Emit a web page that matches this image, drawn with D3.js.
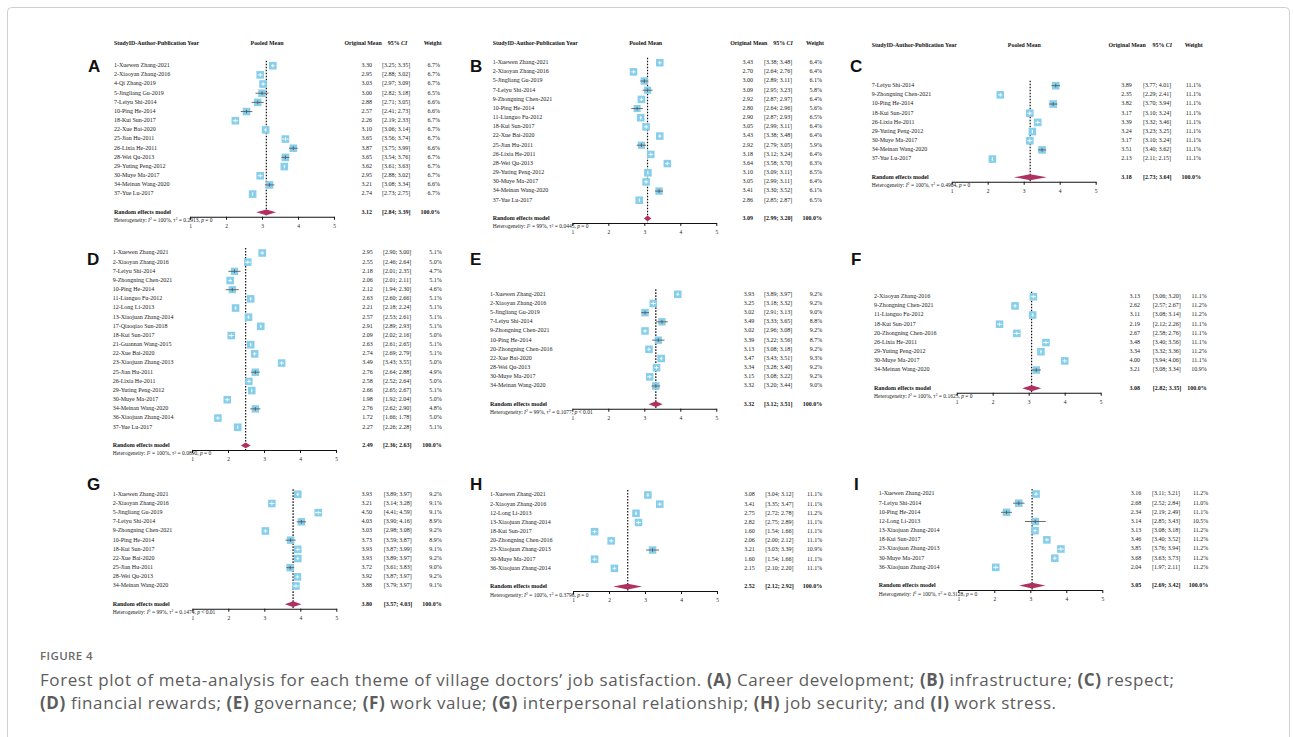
<!DOCTYPE html>
<html>
<head>
<meta charset="utf-8">
<script src="https://cdn.jsdelivr.net/npm/d3@7"></script>
<style>
  body { margin: 0; background: #fff; }
  svg { display: block; }
</style>
</head>
<body>
<svg id="fig" width="1293" height="737"></svg>
<script>
// ---------- Data: one block of arrays per theme ----------
const axisTicks = [1, 2, 3, 4, 5];

// (A) Career development
const studiesA = ["1-Xuewen Zhang-2021","2-Xiaoyan Zhang-2016","4-Qi Zhang-2019","5-Jingliang Gu-2019","7-Leiyu Shi-2014","10-Ping He-2014","18-Kui Sun-2017","22-Xue Bai-2020","25-Jian Hu-2011","26-Lixia He-2011","28-Wei Qu-2013","29-Yuting Peng-2012","30-Muye Ma-2017","34-Meinan Wang-2020","37-Yue Lu-2017"];
const meanA   = [3.30, 2.95, 3.03, 3.00, 2.88, 2.57, 2.26, 3.10, 3.65, 3.87, 3.65, 3.62, 2.95, 3.21, 2.74];
const lowerA  = [3.25, 2.88, 2.97, 2.82, 2.71, 2.41, 2.19, 3.06, 3.56, 3.75, 3.54, 3.61, 2.88, 3.08, 2.73];
const upperA  = [3.35, 3.02, 3.09, 3.18, 3.05, 2.73, 2.33, 3.14, 3.74, 3.99, 3.76, 3.63, 3.02, 3.34, 2.75];
const weightA = [6.7, 6.7, 6.7, 6.5, 6.6, 6.6, 6.7, 6.7, 6.7, 6.6, 6.7, 6.7, 6.7, 6.6, 6.7];
const pooledA = [3.12, 2.84, 3.39];
const hetA    = ["100%", "0.2913", "= 0"];

// (B) Infrastructure
const studiesB = ["1-Xuewen Zhang-2021","2-Xiaoyan Zhang-2016","5-Jingliang Gu-2019","7-Leiyu Shi-2014","9-Zhongning Chen-2021","10-Ping He-2014","11-Lianguo Fu-2012","18-Kui Sun-2017","22-Xue Bai-2020","25-Jian Hu-2011","26-Lixia He-2011","28-Wei Qu-2013","29-Yuting Peng-2012","30-Muye Ma-2017","34-Meinan Wang-2020","37-Yue Lu-2017"];
const meanB   = [3.43, 2.70, 3.00, 3.09, 2.92, 2.80, 2.90, 3.05, 3.43, 2.92, 3.18, 3.64, 3.10, 3.05, 3.41, 2.86];
const lowerB  = [3.38, 2.64, 2.89, 2.95, 2.87, 2.64, 2.87, 2.99, 3.38, 2.79, 3.12, 3.58, 3.09, 2.99, 3.30, 2.85];
const upperB  = [3.48, 2.76, 3.11, 3.23, 2.97, 2.96, 2.93, 3.11, 3.48, 3.05, 3.24, 3.70, 3.11, 3.11, 3.52, 2.87];
const weightB = [6.4, 6.4, 6.1, 5.8, 6.4, 5.6, 6.5, 6.4, 6.4, 5.9, 6.4, 6.3, 6.5, 6.4, 6.1, 6.5];
const pooledB = [3.09, 2.99, 3.20];
const hetB    = ["99%", "0.0445", "= 0"];

// (C) Respect
const studiesC = ["7-Leiyu Shi-2014","9-Zhongning Chen-2021","10-Ping He-2014","18-Kui Sun-2017","26-Lixia He-2011","29-Yuting Peng-2012","30-Muye Ma-2017","34-Meinan Wang-2020","37-Yue Lu-2017"];
const meanC   = [3.89, 2.35, 3.82, 3.17, 3.39, 3.24, 3.17, 3.51, 2.13];
const lowerC  = [3.77, 2.29, 3.70, 3.10, 3.32, 3.23, 3.10, 3.40, 2.11];
const upperC  = [4.01, 2.41, 3.94, 3.24, 3.46, 3.25, 3.24, 3.62, 2.15];
const weightC = [11.1, 11.1, 11.1, 11.1, 11.1, 11.1, 11.1, 11.1, 11.1];
const pooledC = [3.18, 2.73, 3.64];
const hetC    = ["100%", "0.4904", "= 0"];

// (D) Financial rewards
const studiesD = ["1-Xuewen Zhang-2021","2-Xiaoyan Zhang-2016","7-Leiyu Shi-2014","9-Zhongning Chen-2021","10-Ping He-2014","11-Lianguo Fu-2012","12-Long Li-2013","13-Xiaojuan Zhang-2014","17-Qiaoqiao Sun-2018","18-Kui Sun-2017","21-Guannan Wang-2015","22-Xue Bai-2020","23-Xiaojuan Zhang-2013","25-Jian Hu-2011","26-Lixia He-2011","29-Yuting Peng-2012","30-Muye Ma-2017","34-Meinan Wang-2020","36-Xiaojuan Zhang-2014","37-Yue Lu-2017"];
const meanD   = [2.95, 2.55, 2.18, 2.06, 2.12, 2.63, 2.21, 2.57, 2.91, 2.09, 2.63, 2.74, 3.49, 2.76, 2.58, 2.66, 1.98, 2.76, 1.72, 2.27];
const lowerD  = [2.90, 2.46, 2.01, 2.01, 1.94, 2.60, 2.18, 2.53, 2.89, 2.02, 2.61, 2.69, 3.43, 2.64, 2.52, 2.65, 1.92, 2.62, 1.66, 2.26];
const upperD  = [3.00, 2.64, 2.35, 2.11, 2.30, 2.66, 2.24, 2.61, 2.93, 2.16, 2.65, 2.79, 3.55, 2.88, 2.64, 2.67, 2.04, 2.90, 1.78, 2.28];
const weightD = [5.1, 5.0, 4.7, 5.1, 4.6, 5.1, 5.1, 5.1, 5.1, 5.0, 5.1, 5.1, 5.0, 4.9, 5.0, 5.1, 5.0, 4.8, 5.0, 5.1];
const pooledD = [2.49, 2.36, 2.63];
const hetD    = ["100%", "0.0890", "= 0"];

// (E) Governance
const studiesE = ["1-Xuewen Zhang-2021","2-Xiaoyan Zhang-2016","5-Jingliang Gu-2019","7-Leiyu Shi-2014","9-Zhongning Chen-2021","10-Ping He-2014","20-Zhongning Chen-2016","22-Xue Bai-2020","28-Wei Qu-2013","30-Muye Ma-2017","34-Meinan Wang-2020"];
const meanE   = [3.93, 3.25, 3.02, 3.49, 3.02, 3.39, 3.13, 3.47, 3.34, 3.15, 3.32];
const lowerE  = [3.89, 3.18, 2.91, 3.33, 2.96, 3.22, 3.08, 3.43, 3.28, 3.08, 3.20];
const upperE  = [3.97, 3.32, 3.13, 3.65, 3.08, 3.56, 3.18, 3.51, 3.40, 3.22, 3.44];
const weightE = [9.2, 9.2, 9.0, 8.8, 9.2, 8.7, 9.2, 9.3, 9.2, 9.2, 9.0];
const pooledE = [3.32, 3.12, 3.51];
const hetE    = ["99%", "0.1077", "< 0.01"];

// (F) Work value
const studiesF = ["2-Xiaoyan Zhang-2016","9-Zhongning Chen-2021","11-Lianguo Fu-2012","18-Kui Sun-2017","20-Zhongning Chen-2016","26-Lixia He-2011","29-Yuting Peng-2012","30-Muye Ma-2017","34-Meinan Wang-2020"];
const meanF   = [3.13, 2.62, 3.11, 2.19, 2.67, 3.48, 3.34, 4.00, 3.21];
const lowerF  = [3.06, 2.57, 3.08, 2.12, 2.58, 3.40, 3.32, 3.94, 3.08];
const upperF  = [3.20, 2.67, 3.14, 2.26, 2.76, 3.56, 3.36, 4.06, 3.34];
const weightF = [11.1, 11.2, 11.2, 11.1, 11.1, 11.1, 11.2, 11.1, 10.9];
const pooledF = [3.08, 2.82, 3.35];
const hetF    = ["100%", "0.1625", "= 0"];

// (G) Interpersonal relationship
const studiesG = ["1-Xuewen Zhang-2021","2-Xiaoyan Zhang-2016","5-Jingliang Gu-2019","7-Leiyu Shi-2014","9-Zhongning Chen-2021","10-Ping He-2014","18-Kui Sun-2017","22-Xue Bai-2020","25-Jian Hu-2011","28-Wei Qu-2013","34-Meinan Wang-2020"];
const meanG   = [3.93, 3.21, 4.50, 4.03, 3.03, 3.73, 3.93, 3.93, 3.72, 3.92, 3.88];
const lowerG  = [3.89, 3.14, 4.41, 3.90, 2.98, 3.59, 3.87, 3.89, 3.61, 3.87, 3.79];
const upperG  = [3.97, 3.28, 4.59, 4.16, 3.08, 3.87, 3.99, 3.97, 3.83, 3.97, 3.97];
const weightG = [9.2, 9.1, 9.1, 8.9, 9.2, 8.9, 9.1, 9.2, 9.0, 9.2, 9.1];
const pooledG = [3.80, 3.57, 4.03];
const hetG    = ["99%", "0.1474", "< 0.01"];

// (H) Job security
const studiesH = ["1-Xuewen Zhang-2021","2-Xiaoyan Zhang-2016","12-Long Li-2013","13-Xiaojuan Zhang-2014","18-Kui Sun-2017","20-Zhongning Chen-2016","23-Xiaojuan Zhang-2013","30-Muye Ma-2017","36-Xiaojuan Zhang-2014"];
const meanH   = [3.08, 3.41, 2.75, 2.82, 1.60, 2.06, 3.21, 1.60, 2.15];
const lowerH  = [3.04, 3.35, 2.72, 2.75, 1.54, 2.00, 3.03, 1.54, 2.10];
const upperH  = [3.12, 3.47, 2.78, 2.89, 1.66, 2.12, 3.39, 1.66, 2.20];
const weightH = [11.1, 11.1, 11.2, 11.1, 11.1, 11.1, 10.9, 11.1, 11.1];
const pooledH = [2.52, 2.12, 2.92];
const hetH    = ["100%", "0.3798", "= 0"];

// (I) Work stress
const studiesI = ["1-Xuewen Zhang-2021","7-Leiyu Shi-2014","10-Ping He-2014","12-Long Li-2013","13-Xiaojuan Zhang-2014","18-Kui Sun-2017","23-Xiaojuan Zhang-2013","30-Muye Ma-2017","36-Xiaojuan Zhang-2014"];
const meanI   = [3.16, 2.68, 2.34, 3.14, 3.13, 3.46, 3.85, 3.68, 2.04];
const lowerI  = [3.11, 2.52, 2.19, 2.85, 3.08, 3.40, 3.76, 3.63, 1.97];
const upperI  = [3.21, 2.84, 2.49, 3.43, 3.18, 3.52, 3.94, 3.73, 2.11];
const weightI = [11.2, 11.0, 11.1, 10.5, 11.2, 11.2, 11.2, 11.2, 11.2];
const pooledI = [3.05, 2.69, 3.42];
const hetI    = ["100%", "0.3128", "= 0"];

const captionTitle = "FIGURE 4";
const captionLines = [
  [["Forest plot of meta-analysis for each theme of village doctors\u2019 job satisfaction. ", 0], ["(A)", 1], [" Career development; ", 0], ["(B)", 1], [" infrastructure; ", 0], ["(C)", 1], [" respect;", 0]],
  [["(D)", 1], [" financial rewards; ", 0], ["(E)", 1], [" governance; ", 0], ["(F)", 1], [" work value; ", 0], ["(G)", 1], [" interpersonal relationship; ", 0], ["(H)", 1], [" job security; and ", 0], ["(I)", 1], [" work stress.", 0]]
];

// ---------- Panel placement ----------
const panels = [
  { id: "A", studies: studiesA, mean: meanA, lower: lowerA, upper: upperA, weight: weightA, pooled: pooledA, het: hetA,
    pos: { letterX: 88, letterY: 72, rowX: 114, x1: 190, row0: 65.7, valR: 372, ciL: 382, wR: 440,
           header: { y: 44, pooled: 267, origR: 381.7, ciC: 397.5, wR: 441.7 } } },
  { id: "B", studies: studiesB, mean: meanB, lower: lowerB, upper: upperB, weight: weightB, pooled: pooledB, het: hetB,
    pos: { letterX: 470, letterY: 72, rowX: 492.7, x1: 572.3, row0: 62.7, valR: 753, ciL: 764, wR: 822,
           header: { y: 43.5, pooled: 645.7, origR: 767.3, ciC: 783, wR: 824 } } },
  { id: "C", studies: studiesC, mean: meanC, lower: lowerC, upper: upperC, weight: weightC, pooled: pooledC, het: hetC,
    pos: { letterX: 850, letterY: 72, rowX: 871.7, x1: 951.7, row0: 85.7, valR: 1131.7, ciL: 1143, wR: 1201,
           header: { y: 45.5, pooled: 1024.3, origR: 1145.7, ciC: 1162.3, wR: 1202.7 } } },
  { id: "D", studies: studiesD, mean: meanD, lower: lowerD, upper: upperD, weight: weightD, pooled: pooledD, het: hetD,
    pos: { letterX: 87, letterY: 265, rowX: 112.7, x1: 192, row0: 253, valR: 372.7, ciL: 383, wR: 441.7 } },
  { id: "E", studies: studiesE, mean: meanE, lower: lowerE, upper: upperE, weight: weightE, pooled: pooledE, het: hetE,
    pos: { letterX: 470, letterY: 265, rowX: 490, x1: 572.3, row0: 294.3, valR: 754.3, ciL: 764, wR: 822.3 } },
  { id: "F", studies: studiesF, mean: meanF, lower: lowerF, upper: upperF, weight: weightF, pooled: pooledF, het: hetF,
    pos: { letterX: 851, letterY: 265, rowX: 874, x1: 956.7, row0: 296.7, valR: 1140, ciL: 1152.7, wR: 1206.7 } },
  { id: "G", studies: studiesG, mean: meanG, lower: lowerG, upper: upperG, weight: weightG, pooled: pooledG, het: hetG,
    pos: { letterX: 87, letterY: 490, rowX: 112.7, x1: 192.3, row0: 494.3, valR: 372, ciL: 383.7, wR: 441.7 } },
  { id: "H", studies: studiesH, mean: meanH, lower: lowerH, upper: upperH, weight: weightH, pooled: pooledH, het: hetH,
    pos: { letterX: 470, letterY: 490, rowX: 490, x1: 573, row0: 495, valR: 754.7, ciL: 765.3, wR: 822.3 } },
  { id: "I", studies: studiesI, mean: meanI, lower: lowerI, upper: upperI, weight: weightI, pooled: pooledI, het: hetI,
    pos: { letterX: 854, letterY: 490, rowX: 878.7, x1: 958.3, row0: 494, valR: 1141.3, ciL: 1152, wR: 1208.3 } }
];

const SERIF = "'Liberation Serif', 'Times New Roman', serif";
const ROW_STEP = 9.17;
const AXIS_SPAN = 144;        // pixels from 1 to 5
const SQUARE = 7.6;           // square side for the largest weight
const BOX_BLUE = "#87ceeb";
const DIAMOND = "#b03060";
const fmt2 = d3.format(".2f");

const svg = d3.select("#fig");

// Figure frame
svg.append("rect")
  .attr("x", 7.5).attr("y", 7.5).attr("width", 1282).attr("height", 760)
  .attr("rx", 4).attr("fill", "#fff").attr("stroke", "#cfcfcf").attr("stroke-width", 1);

function drawPanel(p) {
  const L = p.pos;
  const g = svg.append("g").attr("class", "panel-" + p.id);
  const x = d3.scaleLinear().domain([1, 5]).range([L.x1, L.x1 + AXIS_SPAN]);
  const y = d3.scaleLinear().domain([0, 1]).range([L.row0, L.row0 + ROW_STEP]);
  const n = p.studies.length;
  const randomY = y(n - 1) + 18.2;
  const axisY = randomY + 4.5;
  const maxW = d3.max(p.weight);

  // Panel letter
  g.append("text")
    .attr("x", L.letterX).attr("y", L.letterY)
    .attr("font-family", "'Liberation Sans', Arial, sans-serif")
    .attr("font-weight", "bold").attr("font-size", 17)
    .attr("fill", "#111").text(p.id);

  // Column headings (top row of panels)
  if (L.header) {
    const h = L.header;
    const ht = g.append("g").attr("font-family", SERIF).attr("font-weight", "bold")
      .attr("font-size", 5.9).attr("fill", "#111").attr("dominant-baseline", "middle");
    ht.append("text").attr("x", L.rowX).attr("y", h.y).text("StudyID-Author-Publication Year");
    ht.append("text").attr("x", h.pooled).attr("y", h.y).attr("text-anchor", "middle").text("Pooled Mean");
    ht.append("text").attr("x", h.origR).attr("y", h.y).attr("text-anchor", "end").text("Original Mean");
    const ci = ht.append("text").attr("x", h.ciC).attr("y", h.y).attr("text-anchor", "middle");
    ci.append("tspan").text("95% ");
    ci.append("tspan").attr("font-style", "italic").text("CI");
    ht.append("text").attr("x", h.wR).attr("y", h.y).attr("text-anchor", "end").text("Weight");
  }

  const rows = d3.range(n);
  const txt = g.append("g").attr("font-family", SERIF).attr("font-size", 6)
    .attr("fill", "#1a1a1a").attr("dominant-baseline", "middle");

  // Study labels
  txt.selectAll(".study").data(rows).join("text")
    .attr("x", L.rowX).attr("y", i => y(i)).text(i => p.studies[i]);

  // Mean, CI and weight columns
  txt.selectAll(".mean").data(rows).join("text")
    .attr("x", L.valR).attr("y", i => y(i)).attr("text-anchor", "end").text(i => fmt2(p.mean[i]));
  txt.selectAll(".ci").data(rows).join("text")
    .attr("x", L.ciL).attr("y", i => y(i))
    .text(i => "[" + fmt2(p.lower[i]) + "; " + fmt2(p.upper[i]) + "]");
  txt.selectAll(".wt").data(rows).join("text")
    .attr("x", L.wR).attr("y", i => y(i)).attr("text-anchor", "end").text(i => p.weight[i].toFixed(1) + "%");

  // Random effects row
  const rb = g.append("g").attr("font-family", SERIF).attr("font-size", 6).attr("font-weight", "bold")
    .attr("fill", "#111").attr("dominant-baseline", "middle");
  rb.append("text").attr("x", L.rowX).attr("y", randomY).text("Random effects model");
  rb.append("text").attr("x", L.valR).attr("y", randomY).attr("text-anchor", "end").text(fmt2(p.pooled[0]));
  rb.append("text").attr("x", L.ciL).attr("y", randomY)
    .text("[" + fmt2(p.pooled[1]) + "; " + fmt2(p.pooled[2]) + "]");
  rb.append("text").attr("x", L.wR).attr("y", randomY).attr("text-anchor", "end").text("100.0%");

  // Heterogeneity statement
  const ht = g.append("text").attr("x", L.rowX).attr("y", randomY + 9)
    .attr("font-family", SERIF).attr("font-size", 5.5).attr("fill", "#222").attr("dominant-baseline", "middle");
  ht.append("tspan").text("Heterogeneity: ");
  ht.append("tspan").attr("font-style", "italic").text("I");
  ht.append("tspan").attr("font-size", 3.9).attr("dy", -1.8).text("2");
  ht.append("tspan").attr("dy", 1.8).text(" = " + p.het[0] + ", \u03c4");
  ht.append("tspan").attr("font-size", 3.9).attr("dy", -1.8).text("2");
  ht.append("tspan").attr("dy", 1.8).text(" = " + p.het[1] + ", ");
  ht.append("tspan").attr("font-style", "italic").text("p");
  ht.append("tspan").text(" " + p.het[2]);

  // Pooled estimate reference line
  g.append("line")
    .attr("x1", x(p.pooled[0])).attr("x2", x(p.pooled[0]))
    .attr("y1", L.row0 - 5).attr("y2", axisY)
    .attr("stroke", "#111").attr("stroke-width", 1.2).attr("stroke-dasharray", "1.6,1.4");

  // Study CIs and weighted squares
  const marks = g.append("g");
  rows.forEach(i => {
    const s = SQUARE * Math.sqrt(p.weight[i] / maxW);
    const cx = x(p.mean[i]), cy = y(i);
    const xl = x(p.lower[i]), xh = x(p.upper[i]);
    const inside = (xh - xl) <= s;
    const col = inside ? "#ffffff" : "#5a5a5a";
    marks.append("rect").attr("x", cx - s / 2).attr("y", cy - s / 2)
      .attr("width", s).attr("height", s).attr("fill", BOX_BLUE);
    marks.append("line").attr("x1", xl).attr("x2", xh).attr("y1", cy).attr("y2", cy)
      .attr("stroke", col).attr("stroke-width", 0.9);
    marks.append("line").attr("x1", cx).attr("x2", cx).attr("y1", cy - 1.8).attr("y2", cy + 1.8)
      .attr("stroke", col).attr("stroke-width", 0.9);
  });

  // Pooled diamond
  const dh = 2.9;
  g.append("path")
    .attr("d", `M${x(p.pooled[1])},${randomY} L${x(p.pooled[0])},${randomY - dh} L${x(p.pooled[2])},${randomY} L${x(p.pooled[0])},${randomY + dh} Z`)
    .attr("fill", DIAMOND);

  // Axis
  const ax = g.append("g").attr("transform", `translate(0,${axisY})`)
    .call(d3.axisBottom(x).tickValues(axisTicks).tickFormat(d3.format("d"))
      .tickSize(3).tickSizeOuter(0).tickPadding(4.5));
  ax.select(".domain").attr("stroke", "#111").attr("stroke-width", 1.1);
  ax.selectAll(".tick line").attr("stroke", "#111").attr("stroke-width", 1);
  ax.selectAll(".tick text").attr("font-family", SERIF).attr("font-size", 5.5).attr("fill", "#222");
}

panels.forEach(drawPanel);

// Caption
svg.append("text").attr("x", 40).attr("y", 659.5)
  .attr("font-family", "'Open Sans', sans-serif").attr("font-size", 11.5).attr("font-weight", 600)
  .attr("fill", "#6a6a6a").attr("letter-spacing", 0.4).text(captionTitle);

// Caption lines are spread to the column width used by the journal layout
const captionEnds = [1174, 1056];
captionLines.forEach((line, li) => {
  const t = svg.append("text").attr("x", 40).attr("y", 686 + li * 23)
    .attr("font-family", "'Open Sans', sans-serif").attr("font-size", 17).attr("fill", "#5c5c5c");
  line.forEach(([s, b]) => {
    t.append("tspan").attr("font-weight", b ? "bold" : "normal").text(s);
  });
  const natural = t.node().getComputedTextLength();
  const chars = line.reduce((k, [s]) => k + s.length, 0);
  const extra = (captionEnds[li] - 40 - natural) / Math.max(1, chars - 1);
  t.attr("letter-spacing", extra.toFixed(3));
});
</script>
</body>
</html>
